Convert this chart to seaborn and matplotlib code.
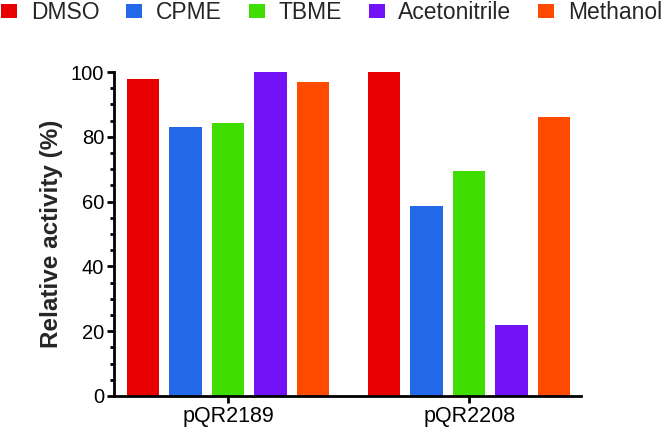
import pandas as pd
import matplotlib.pyplot as plt
import seaborn as sns
from matplotlib.patches import Patch
from matplotlib.ticker import MultipleLocator

# Data
strains = ["pQR2189", "pQR2208"]
solvents = ["DMSO", "CPME", "TBME", "Acetonitrile", "Methanol"]
pqr2189 = [97.8, 83.0, 84.4, 100.0, 97.0]
pqr2208 = [100.0, 58.6, 69.4, 22.0, 86.0]
colors = ["#E60000", "#2468EA", "#3FDD00", "#7112F7", "#FF4B00"]

df = pd.DataFrame({
    "strain": [strains[0]] * 5 + [strains[1]] * 5,
    "solvent": solvents * 2,
    "activity": pqr2189 + pqr2208,
})

sns.set_style("ticks")
plt.rcParams["font.family"] = ["Liberation Sans", "DejaVu Sans"]

fig = plt.figure(figsize=(6.65, 4.33), dpi=100)
ax = fig.add_axes([0.1714, 0.0855, 0.703, 0.748])

sns.barplot(data=df, x="strain", y="activity", hue="solvent", order=strains,
            hue_order=solvents, palette=colors, width=0.882, gap=0.235,
            linewidth=0, saturation=1, legend=False, ax=ax)

ax.set_xlim(-0.474, 1.466)
ax.set_ylim(0, 100)
ax.yaxis.set_major_locator(MultipleLocator(20))
ax.yaxis.set_minor_locator(MultipleLocator(5))
sns.despine(ax=ax)
for s in ["left", "bottom"]:
    ax.spines[s].set_linewidth(2.0)
    ax.spines[s].set_color("black")
ax.tick_params(axis="both", which="major", length=5, width=2.0, pad=2,
               color="black", labelcolor="black")
ax.tick_params(axis="y", which="major", labelsize=14.5)
ax.tick_params(axis="x", which="major", labelsize=15.5)
ax.tick_params(axis="y", which="minor", length=3.2, width=2.0, color="black")
ax.set_xlabel("")
ax.set_ylabel("Relative activity (%)", fontsize=17.5, fontweight="bold")
ax.yaxis.set_label_coords(-0.11, 0.5)

handles = [Patch(facecolor=c, edgecolor="none", label=s) for s, c in zip(solvents, colors)]
fig.legend(handles=handles, loc="upper left", bbox_to_anchor=(-0.002, 1.003), ncol=5,
           frameon=False, fontsize=16.5, handlelength=0.7, handleheight=0.62,
           handletextpad=0.6, columnspacing=1.17, borderaxespad=0, borderpad=0.1)

fig.savefig("out.png", dpi=100)
